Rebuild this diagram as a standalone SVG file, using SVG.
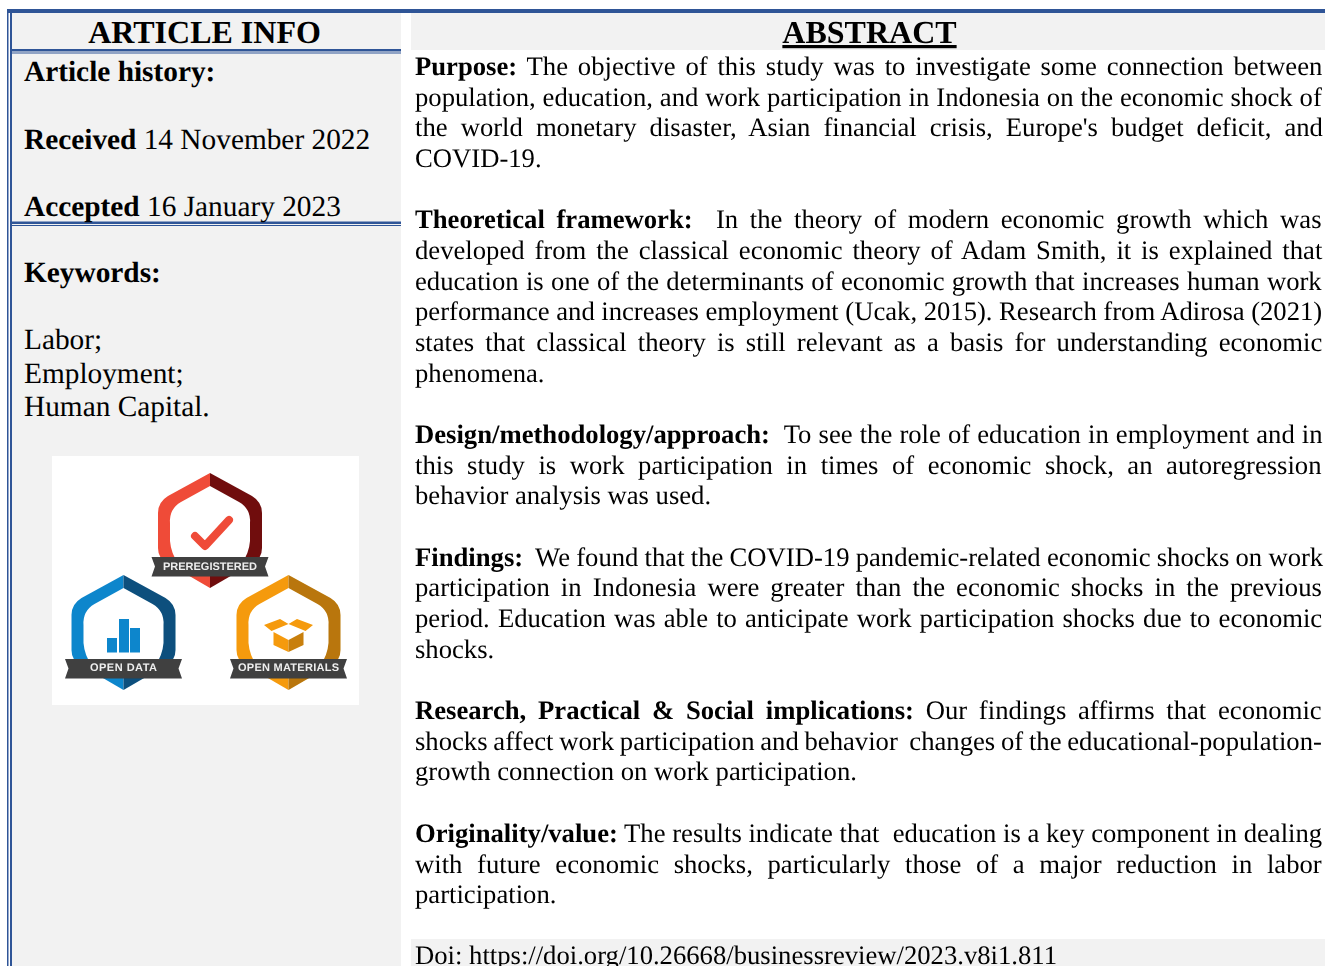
<svg xmlns="http://www.w3.org/2000/svg" width="1325" height="966" viewBox="0 0 1325 966">
<style>
text{font-family:"Liberation Serif","Times New Roman",serif;fill:#000;white-space:pre;text-rendering:geometricPrecision}
.l{font-size:29.33px}.r{font-size:26.67px}.h{font-size:32px;font-weight:bold;text-anchor:middle}
.b{font-weight:bold}.p{fill:#f2f2f2}.line{fill:#2f5597}
.rib{fill:#3f3f41}.rt{font-family:"Liberation Sans",Arial,sans-serif;font-size:11px;font-weight:bold;fill:#eee;text-anchor:middle}
.in{fill:#fff}
</style>
<defs>
<filter id="soft" x="-5%" y="-5%" width="110%" height="110%"><feGaussianBlur stdDeviation="0.45"/></filter>
<path id="hexL" d="M0 0L-42 23Q-52 29-52 40L-52 75Q-52 85-43 90L0 115Z"/>
<path id="hexR" d="M0 0L42 23Q52 29 52 40L52 75Q52 85 43 90L0 115Z"/>
<path id="hexI" d="M0 13L-29 29Q-41 36-40 50L-40 68Q-39 80-32 90L32 90Q39 80 40 68L40 50Q41 36 29 29Z"/>
<path id="ribbon" d="M-58.500 84L58.500 84L55 93.500L58.500 103.500L-58.500 103.500L-55 93.500Z"/>
</defs>
<rect width="1325" height="966" fill="#fff"/>
<g id="panels">
<rect class="p" x="12" y="13" width="389" height="953"/>
<rect class="p" x="411" y="13" width="914" height="37"/>
<rect class="p" x="411" y="939" width="914" height="27"/>
</g>
<g id="rules">
<rect class="line" x="7" y="9" width="1318" height="4"/>
<rect class="line" x="7" y="9" width="1.500" height="957"/>
<rect class="line" x="10" y="9" width="2" height="957"/>
<rect class="line" x="10" y="49" width="391" height="2.500"/>
<rect class="line" x="10" y="52.500" width="391" height="1"/>
<rect class="line" x="10" y="221.500" width="391" height="2.500"/>
<rect class="line" x="10" y="225" width="391" height="1"/>
</g>
<g id="article-info">
<text class="h" x="204.500" y="43">ARTICLE INFO</text>
<text class="l b" x="24" y="81">Article history:</text>
<text class="l" x="24" y="149"><tspan class="b">Received</tspan> 14 November 2022</text>
<text class="l" x="24" y="216"><tspan class="b">Accepted</tspan> 16 January 2023</text>
<text class="l b" x="24" y="282">Keywords:</text>
<text class="l" x="24" y="349">Labor;</text>
<text class="l" x="24" y="383">Employment;</text>
<text class="l" x="24" y="416">Human Capital.</text>
</g>
<g id="badges">
<rect x="52" y="456" width="307" height="249" fill="#fff"/>
<g filter="url(#soft)">
<g id="badge-preregistered" transform="translate(210 473)">
<use href="#hexL" fill="#ef4b37"/><use href="#hexR" fill="#6f0f10"/><use href="#hexI" class="in"/>
<path d="M-15 63L-5 73L19 47" fill="none" stroke="#ef4b37" stroke-width="8" stroke-linecap="round" stroke-linejoin="round"/>
<use href="#ribbon" class="rib"/>
</g>
<g id="badge-open-data" transform="translate(123.500 575)">
<use href="#hexL" fill="#0f86cc"/><use href="#hexR" fill="#0b4f7d"/><use href="#hexI" class="in"/>
<rect x="-16.500" y="63" width="10" height="14.500" fill="#0f86cc"/><rect x="-4.500" y="44" width="10" height="33.500" fill="#0f86cc"/><rect x="6.500" y="53" width="10" height="24.500" fill="#0f86cc"/>
<use href="#ribbon" class="rib"/>
</g>
<g id="badge-open-materials" transform="translate(288.500 575)">
<use href="#hexL" fill="#f59a0c"/><use href="#hexR" fill="#b97608"/><use href="#hexI" class="in"/>
<path d="M-24.500 50L-8.500 44L0 49L-17 56ZM24.500 50L8.500 44L0 49L17 56Z" fill="#f59a0c"/>
<path d="M-15 57L0 65L0 77L-15 70Z" fill="#f59a0c"/><path d="M15 57L0 65L0 77L15 70Z" fill="#c87f08"/>
<use href="#ribbon" class="rib"/>
</g>
</g>
<text class="rt" x="210" y="570" textLength="94">PREREGISTERED</text>
<text class="rt" x="123.500" y="671" textLength="67">OPEN DATA</text>
<text class="rt" x="288.500" y="671" textLength="101">OPEN MATERIALS</text>
</g>
<g id="abstract">
<text class="h" x="869.500" y="43" text-decoration="underline">ABSTRACT</text>
<text class="r" x="415" y="75.300" word-spacing="3.18"><tspan class="b">Purpose:</tspan> The objective of this study was to investigate some connection between</text>
<text class="r" x="415" y="106.300" word-spacing="0.27">population, education, and work participation in Indonesia on the economic shock of</text>
<text class="r" x="415" y="136.300" word-spacing="6.4">the world monetary disaster, Asian financial crisis, Europe's budget deficit, and</text>
<text class="r" x="415" y="167.300">COVID-19.</text>
<text class="r" x="415" y="228.300" word-spacing="5"><tspan class="b">Theoretical framework:</tspan>  In the theory of modern economic growth which was</text>
<text class="r" x="415" y="259.300" word-spacing="3.25">developed from the classical economic theory of Adam Smith, it is explained that</text>
<text class="r" x="415" y="290.300" word-spacing="0.67">education is one of the determinants of economic growth that increases human work</text>
<text class="r" x="415" y="320.300" word-spacing="-0.11">performance and increases employment (Ucak, 2015). Research from Adirosa (2021)</text>
<text class="r" x="415" y="351.300" word-spacing="4.42">states that classical theory is still relevant as a basis for understanding economic</text>
<text class="r" x="415" y="382.300">phenomena.</text>
<text class="r" x="415" y="443.300" word-spacing="0.45"><tspan class="b">Design/methodology/approach:</tspan>  To see the role of education in employment and in</text>
<text class="r" x="415" y="474.300" word-spacing="6.9">this study is work participation in times of economic shock, an autoregression</text>
<text class="r" x="415" y="504.300">behavior analysis was used.</text>
<text class="r" x="415" y="566.300" word-spacing="-0.45"><tspan class="b">Findings:</tspan>  We found that the COVID-19 pandemic-related economic shocks on work</text>
<text class="r" x="415" y="596.300" word-spacing="4.45">participation in Indonesia were greater than the economic shocks in the previous</text>
<text class="r" x="415" y="627.300" word-spacing="1.45">period. Education was able to anticipate work participation shocks due to economic</text>
<text class="r" x="415" y="658.300">shocks.</text>
<text class="r" x="415" y="719.300" word-spacing="5.1"><tspan class="b">Research, Practical &amp; Social implications:</tspan> Our findings affirms that economic</text>
<text class="r" x="415" y="750.300" word-spacing="-0.9">shocks affect work participation and behavior  changes of the educational-population-</text>
<text class="r" x="415" y="780.300">growth connection on work participation.</text>
<text class="r" x="415" y="842.300"><tspan class="b">Originality/value:</tspan> The results indicate that  education is a key component in dealing</text>
<text class="r" x="415" y="873.300" word-spacing="8">with future economic shocks, particularly those of a major reduction in labor</text>
<text class="r" x="415" y="903.300">participation.</text>
<text class="r" x="415" y="964">Doi: https://doi.org/10.26668/businessreview/2023.v8i1.811</text>
</g>
</svg>
